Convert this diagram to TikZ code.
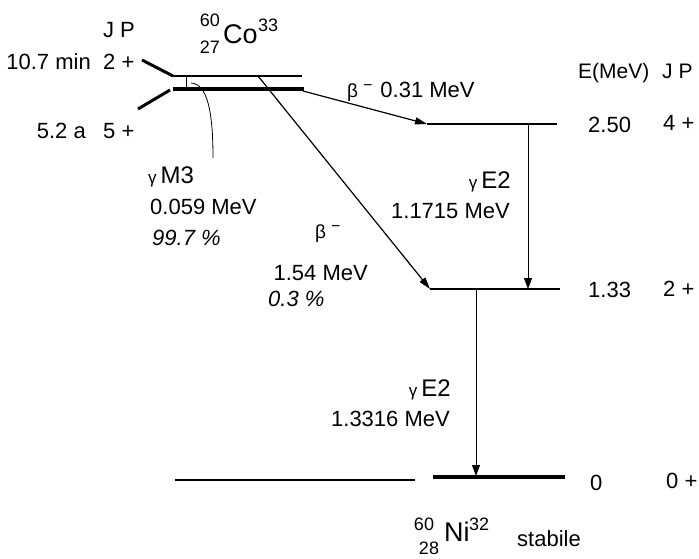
\documentclass[tikz,border=0pt]{standalone}
\usepackage{fontspec}
\setmainfont{Liberation Sans}
\usetikzlibrary{arrows.meta, positioning}
\tikzset{
    thinlevel/.style={line width=1.1pt},
    thicklevel/.style={line width=4pt},
    slant/.style={line width=3pt},
    betaarrow/.style={-{Triangle[length=12pt, width=7pt]}, line width=1.2pt},
    gammaarrow/.style={-{Triangle[length=11pt, width=8pt]}, line width=0.8pt},
    lbl/.style={inner sep=0pt, font=\fontsize{22}{26}\selectfont, text height=15.8pt, text depth=0pt},
    mult/.style={inner sep=0pt, font=\fontsize{24}{28}\selectfont, text height=17.3pt, text depth=0pt},
    head/.style={inner sep=0pt, font=\fontsize{21}{24}\selectfont, text height=15pt, text depth=0pt},
    idx/.style={inner sep=0pt, font=\fontsize{18}{20}\selectfont, text height=13pt, text depth=0pt},
    elem/.style={inner sep=0pt, font=\fontsize{27}{30}\selectfont, text height=19.4pt, text depth=0pt},
}
\newcommand{\gam}{{\fontsize{17}{20}\selectfont γ}\kern4pt}
\newcommand{\betam}{{\fontsize{19}{22}\selectfont β}\hspace{5pt}\raisebox{7pt}{\fontsize{16}{18}\selectfont −}}

\begin{document}
\begin{tikzpicture}[x=1pt, y=-1pt]
    \useasboundingbox (0,0) rectangle (699,559);

    % Livelli del 60Co
    \coordinate (isoT) at (142,60);
    \coordinate (isoL) at (173,76);
    \coordinate (isoR) at (302,76);
    \coordinate (isoB) at (258,76);  % partenza beta 1.54
    \coordinate (gsT) at (138,109);
    \coordinate (gsK) at (170,90);
    \coordinate (gsL) at (173,89);
    \coordinate (gsR) at (304,89);
    \coordinate (gsB) at (303,91);   % partenza beta 0.31
    \draw[slant] (isoT) -- (isoL);
    \draw[thinlevel] (isoL) -- (isoR);
    \draw[slant] (gsT) -- (gsK);
    \draw[thicklevel] (gsL) -- (gsR);

    % Livelli del 60Ni
    \coordinate (n4L) at (427,124);
    \coordinate (n4R) at (557,124);
    \coordinate (n2L) at (430,289);
    \coordinate (n2R) at (560,289);
    \coordinate (n0a) at (175,480);
    \coordinate (n0b) at (415,480);
    \coordinate (n0L) at (433,477);
    \coordinate (n0R) at (565,477);
    \draw[thinlevel] (n4L) -- (n4R);
    \draw[thinlevel] (n2L) -- (n2R);
    \draw[thinlevel] (n0a) -- (n0b);
    \draw[thicklevel] (n0L) -- (n0R);

    % Transizioni beta
    \draw[betaarrow] (gsB) -- (n4L);
    \draw[betaarrow] (isoB) -- (n2L);

    % Transizioni gamma
    \coordinate (g1a) at (528,124);
    \coordinate (g1b) at (528,289);
    \coordinate (g2a) at (476,289);
    \coordinate (g2b) at (476,476);
    \draw[gammaarrow] (g1a) -- (g1b);
    \draw[gammaarrow] (g2a) -- (g2b);

    % Transizione isomerica M3
    \coordinate (m3a) at (186,77);
    \coordinate (m3b) at (186,88);
    \coordinate (m3c) at (191,83);
    \coordinate (m3d) at (213,158);
    \draw[line width=0.7pt] (m3a) -- (m3b);
    \draw[line width=0.8pt] (m3c) .. controls (207,84) and (213,110) .. (m3d);

    % Etichette a sinistra
    \node[lbl] (jpL) at (119,30) {J P};
    \node[lbl, anchor=east] (tIso) at (91,62) {10.7 min};
    \node[lbl, anchor=west] (jIso) at (103,62) {2 +};
    \node[lbl, anchor=east] (tGs) at (86,131) {5.2 a};
    \node[lbl, anchor=west] (jGs) at (103,131) {5 +};

    % Nuclide padre
    \node[idx] (coA) at (210,20) {60};
    \node[idx] (coZ) at (210,47) {27};
    \node[elem, anchor=west] (coSym) at (223,34) {Co};
    \node[idx, anchor=west] (coN) at (258,25) {33};

    % Colonna a destra
    \node[head, anchor=west] (eHead) at (578,71) {E(MeV)};
    \node[head, anchor=west] (jpR) at (662,71) {J P};
    \node[lbl, anchor=west] (e4) at (588,125) {2.50};
    \node[lbl, anchor=west] (j4) at (663,123) {4 +};
    \node[lbl, anchor=west] (e2) at (588,290) {1.33};
    \node[lbl, anchor=west] (j2) at (663,289) {2 +};
    \node[lbl, anchor=west] (e0) at (590,483) {0};
    \node[lbl, anchor=west] (j0) at (666,481) {0 +};

    % Etichette delle transizioni
    \node[lbl, anchor=west] (b1lab) at (347,90) {\betam\hspace{8pt}0.31 MeV};
    \node[mult, anchor=west] (m3lab) at (148,175) {\gam M3};
    \node[lbl, anchor=west] (m3en) at (150,207) {0.059 MeV};
    \node[lbl, anchor=west] (m3br) at (152,238) {\itshape 99.7 \%};
    \node[lbl, anchor=west] (b2lab) at (315,231) {\betam};
    \node[lbl, anchor=east] (b2en) at (368,273) {1.54 MeV};
    \node[lbl, anchor=west] (b2br) at (268,299) {\itshape 0.3 \%};
    \node[mult, anchor=east] (g1lab) at (511,180) {\gam E2};
    \node[lbl, anchor=east] (g1en) at (510,211) {1.1715 MeV};
    \node[mult, anchor=east] (g2lab) at (451,388) {\gam E2};
    \node[lbl, anchor=east] (g2en) at (450,419) {1.3316 MeV};

    % Nuclide figlio
    \node[idx] (niA) at (424,524) {60};
    \node[idx] (niZ) at (429,548) {28};
    \node[elem, anchor=west] (niSym) at (444,532) {Ni};
    \node[idx, anchor=west] (niN) at (469,524) {32};
    \node[lbl, anchor=west] (stab) at (517,539) {stabile};
\end{tikzpicture}
\end{document}
